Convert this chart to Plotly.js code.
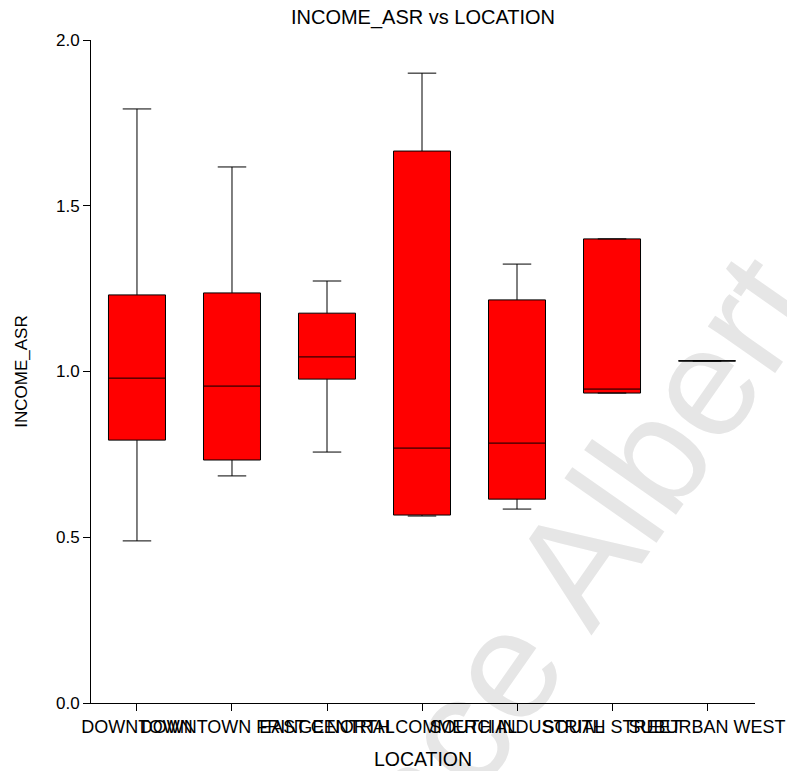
<!DOCTYPE html>
<html>
<head>
<meta charset="utf-8">
<script src="https://cdn.plot.ly/plotly-3.0.1.min.js"></script>
<style>html,body{margin:0;padding:0;background:#fff;}#chart{width:787px;height:771px;}</style>
</head>
<body>
<div id="chart"></div>
<script>
const locations = ["DOWNTOWN", "DOWNTOWN FRINGE", "EAST CENTRAL", "NORTH COMMERCIAL", "SOUTH INDUSTRIAL", "SOUTH STREET", "SUBURBAN WEST"];
const lowerWhisker = [0.489, 0.685, 0.757, 0.564, 0.585, 0.935, 1.032];
const q1Values     = [0.793, 0.733, 0.977, 0.567, 0.615, 0.935, 1.032];
const medianValues = [0.980, 0.956, 1.044, 0.769, 0.784, 0.947, 1.032];
const q3Values     = [1.231, 1.237, 1.176, 1.665, 1.216, 1.400, 1.032];
const upperWhisker = [1.792, 1.617, 1.273, 1.900, 1.324, 1.400, 1.032];
const yTickVals = [0, 0.5, 1.0, 1.5, 2.0];
const yTickText = ["0.0", "0.5", "1.0", "1.5", "2.0"];
const watermarkText = "Prince Albert";

const trace = {
  type: "box",
  x: locations,
  q1: q1Values,
  median: medianValues,
  q3: q3Values,
  lowerfence: lowerWhisker,
  upperfence: upperWhisker,
  fillcolor: "#FF0000",
  line: {color: "#000000", width: 1},
  width: 0.6,
  whiskerwidth: 0.5,
  boxpoints: false,
  hoverinfo: "skip",
  showlegend: false
};

const fontFam = "Liberation Sans, Arial, sans-serif";
const layout = {
  width: 787, height: 771,
  margin: {l: 91, r: 32, t: 40, b: 68},
  paper_bgcolor: "#ffffff",
  plot_bgcolor: "rgba(0,0,0,0)",
  font: {family: fontFam, color: "#000", size: 18},
  title: {text: "INCOME_ASR vs LOCATION", x: 0.5, xref: "paper", xanchor: "center", y: 0.978, yref: "container", yanchor: "middle", font: {size: 20, family: fontFam}},
  xaxis: {
    type: "category",
    range: [-0.484, 6.505],
    showline: true, linecolor: "#000", linewidth: 1,
    ticks: "outside", ticklen: 7, tickcolor: "#000",
    tickangle: 0,
    showgrid: false, zeroline: false,
    tickfont: {size: 18, family: fontFam},
    title: {text: "LOCATION", font: {size: 19.5, family: fontFam}, standoff: 16}
  },
  yaxis: {
    range: [0, 2],
    tickvals: yTickVals, ticktext: yTickText,
    showline: true, linecolor: "#000", linewidth: 1,
    ticks: "outside", ticklen: 7, tickcolor: "#000",
    showgrid: false, zeroline: false,
    tickfont: {size: 17, family: fontFam},
    title: {text: "INCOME_ASR", font: {size: 17, family: fontFam}, standoff: 24}
  },
  shapes: [{
    type: "rect", xref: "paper", yref: "paper",
    x0: 0.629, x1: 0.649, y0: 0.108, y1: 0.128,
    line: {width: 0, color: "rgba(0,0,0,0)"}, fillcolor: "rgba(0,0,0,0)",
    layer: "below",
    label: {text: watermarkText, textangle: -55, textposition: "middle center",
            font: {size: 155, family: fontFam, color: "#e6e6e6"}}
  }]
};

Plotly.newPlot("chart", [trace], layout, {displayModeBar: false, staticPlot: true});
</script>
</body>
</html>
